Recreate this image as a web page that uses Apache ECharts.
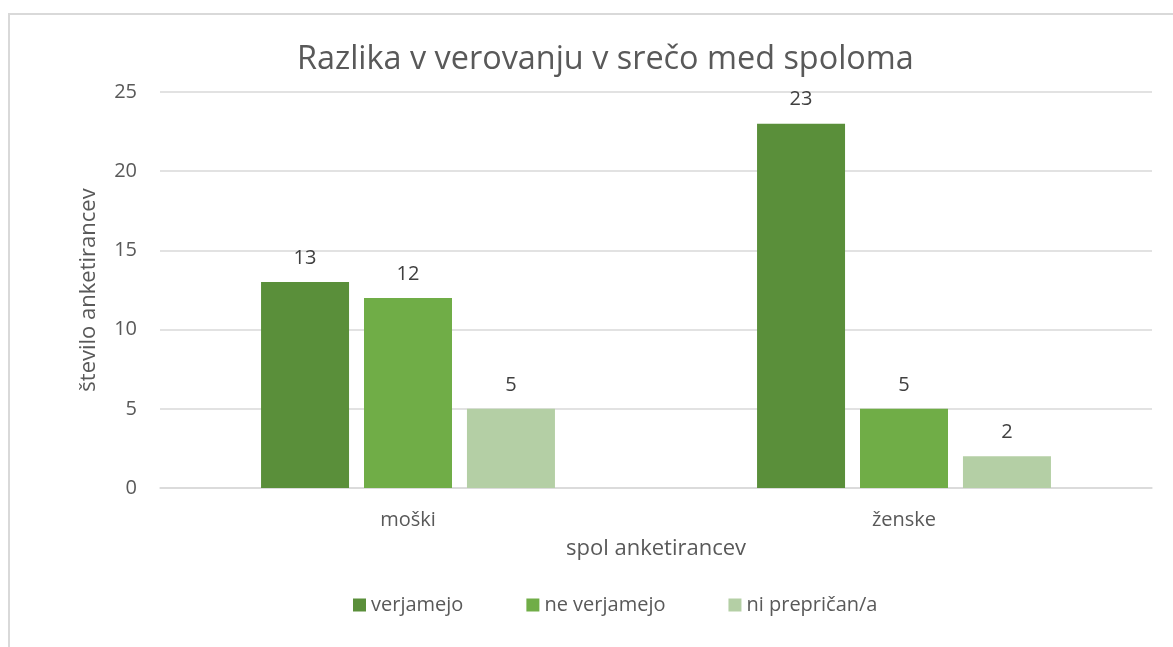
<!DOCTYPE html>
<html>
<head>
<meta charset="utf-8">
<script src="https://cdn.jsdelivr.net/npm/echarts@6/dist/echarts.min.js"></script>
<style>
    html, body {margin:0; padding:0; background:#fff;}
    #frame {position:absolute; left:8px; top:13px; width:1180px; height:650px; border:2px solid #d9d9d9; box-sizing:border-box;}
    #chart {position:absolute; left:0; top:0; width:1173px; height:647px;}
</style>
</head>
<body>
<div id="frame"></div>
<div id="chart"></div>
<script>
// podatki
var categories = ['moški', 'ženske']
var seriesNames = ['verjamejo', 'ne verjamejo', 'ni prepričan/a']
var verjamejo = [13, 23]
var neVerjamejo = [12, 5]
var niPreprican = [5, 2]
var colors = ['#5a8f3a', '#70ad47', '#b4cfa5']

var font = '"Open Sans", "Noto Sans", sans-serif'
var chart = echarts.init(document.getElementById('chart'))

var makeSeries = function(name, data, color){
    return {
        name: name,
        type: 'bar',
        data: data,
        barWidth: 88,
        barGap: '17%',
        itemStyle: {color: color},
        label: {
            show: true,
            position: 'top',
            distance: 14,
            color: '#404040',
            fontSize: 20,
            fontFamily: font
        }
    }
}

var option = {
    animation: false,
    title: {
        text: 'Razlika v verovanju v srečo med spoloma',
        left: 292,
        top: 39,
        textStyle: {color: '#595959', fontSize: 32.4, fontWeight: 'normal', fontFamily: font}
    },
    grid: {left: 160, right: 21, top: 92, bottom: 159},
    legend: {
        bottom: 27,
        left: 348,
        itemWidth: 13,
        itemHeight: 13,
        itemGap: 63,
        icon: 'rect',
        data: seriesNames,
        textStyle: {color: '#595959', fontSize: 20, fontFamily: font}
    },
    xAxis: {
        type: 'category',
        data: categories,
        name: 'spol anketirancev',
        nameLocation: 'middle',
        nameGap: 50,
        nameTextStyle: {color: '#595959', fontSize: 22, fontFamily: font},
        axisLine: {lineStyle: {color: '#d9d9d9', width: 1.5}},
        axisTick: {show: false},
        axisLabel: {color: '#595959', fontSize: 20, fontFamily: font, margin: 22}
    },
    yAxis: {
        type: 'value',
        min: 0,
        max: 25,
        interval: 5,
        name: 'število anketirancev',
        nameLocation: 'middle',
        nameGap: 60,
        nameTextStyle: {color: '#595959', fontSize: 22, fontFamily: font},
        axisLine: {show: false},
        axisTick: {show: false},
        splitLine: {lineStyle: {color: '#d9d9d9', width: 1.5}},
        axisLabel: {color: '#595959', fontSize: 20, fontFamily: font, margin: 23}
    },
    series: [
        makeSeries(seriesNames[0], verjamejo, colors[0]),
        makeSeries(seriesNames[1], neVerjamejo, colors[1]),
        makeSeries(seriesNames[2], niPreprican, colors[2])
    ]
}
chart.setOption(option)
</script>
</body>
</html>
